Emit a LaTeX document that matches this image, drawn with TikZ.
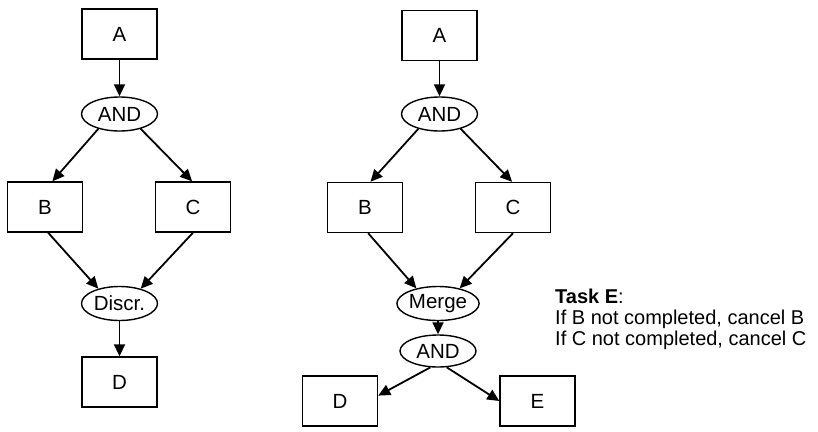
\documentclass[tikz,border=0pt]{standalone}
\usepackage{fontspec}
\setmainfont{Liberation Sans}
\usetikzlibrary{arrows,arrows.meta,shapes.geometric}

\tikzset{
  task/.style={draw, line width=1.4pt, minimum width=75pt, minimum height=50pt, inner sep=0pt, font=\fontsize{20.5}{20.5}\selectfont},
  gate/.style={draw, ellipse, line width=1.4pt, minimum width=76pt, minimum height=34pt, inner sep=0pt, font=\fontsize{20.5}{20.5}\selectfont},
  flow/.style={->, line width=1.8pt, >={Triangle[length=12pt,width=11pt]}}
}

\begin{document}
\begin{tikzpicture}[x=1pt, y=-1pt]
    \useasboundingbox (0,0) rectangle (818,431);

    % discriminator pattern
    \node[task] (a) at (119.5,34) {A};
    \node[gate] (and1) at (119.5,114) {AND};
    \node[task] (b) at (45,207) {B};
    \node[task] (c) at (193,207) {C};
    \node[gate] (discr) at (119.5,303.5) {Discr.};
    \node[task] (d) at (119.5,382) {D};

    \draw[flow] (a) -- (and1);
    \draw[flow] (and1.215) -- (b.74);
    \draw[flow] (and1.-35) -- (c.92);
    \draw[flow] (b.-83) -- (discr.145);
    \draw[flow] (c.-90) -- (discr.35);
    \draw[flow] (discr) -- (d);

    % merge with cancel task
    \node[task] (a2) at (439.5,35.5) {A};
    \node[gate] (and2) at (439.5,114) {AND};
    \node[task] (b2) at (365,207.5) {B};
    \node[task] (c2) at (513,207.5) {C};
    \node[gate] (merge) at (438,303.5) {Merge};
    \node[gate, minimum height=32pt] (and3) at (438,351) {AND};
    \node[task] (d2) at (340,401) {D};
    \node[task] (e2) at (537.5,401) {E};

    \draw[flow] (a2) -- (and2);
    \draw[flow] (and2.215) -- (b2.78);
    \draw[flow] (and2.-35) -- (c2.92);
    \draw[flow] (b2.-83) -- (merge.145);
    \draw[flow] (c2.-90) -- (merge.35);
    \draw[flow] (merge) -- (and3);
    \draw[flow] (and3.-115) -- (d2.8);
    \draw[flow] (and3.-62) -- (e2.west);

    \node[anchor=north west, align=left, inner sep=0pt, font=\fontsize{20}{21}\selectfont] (note) at (555,289)
      {\textbf{Task E}:\\If B not completed, cancel B\\If C not completed, cancel C};
\end{tikzpicture}
\end{document}
